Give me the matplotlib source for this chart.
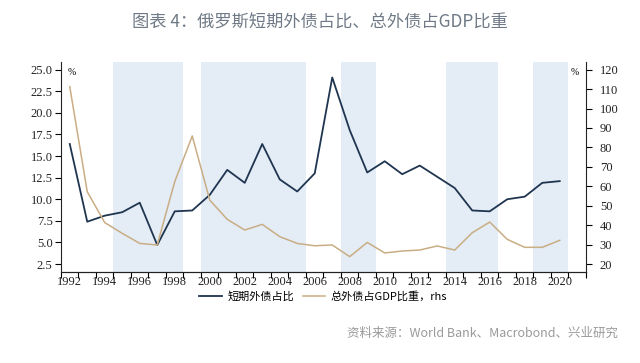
import matplotlib
matplotlib.use('Agg')
import matplotlib.pyplot as plt
import numpy as np

# 刻度用衬线体，中文单独指定字体
plt.rcParams['font.family'] = ['Liberation Serif', 'DejaVu Serif']
cjk = ['Noto Sans CJK SC', 'DejaVu Sans']

# 数据：年份、短期外债占比（左轴）、总外债占GDP比重（右轴）
years = list(range(1992, 2021))
short_share = [16.4, 7.4, 8.1, 8.5, 9.6, 4.7, 8.6, 8.7, 10.5, 13.4, 11.9, 16.4, 12.3,
               10.9, 13.0, 24.1, 18.0, 13.1, 14.4, 12.9, 13.9, 12.6, 11.3, 8.7, 8.6,
               10.0, 10.3, 11.9, 12.1]
debt_gdp = [111.3, 57.2, 41.3, 35.8, 30.6, 29.8, 62.4, 85.9, 52.9, 43.0, 37.5, 40.4, 34.1,
            30.6, 29.4, 29.8, 23.8, 31.1, 25.7, 26.7, 27.2, 29.3, 27.2, 36.1, 41.6,
            32.7, 28.6, 28.6, 32.2]
# 阴影区间（起止年份）
bands = [(1995, 1998), (2000, 2005), (2008, 2009), (2014, 2016), (2019, 2020)]

navy = '#1f3550'
tan = '#c9ad84'
shade = '#e4ecf6'

fig = plt.figure(figsize=(6.4, 3.63), dpi=100)
ax = fig.add_axes([0.0953, 0.2515, 0.8203, 0.5769])
ax2 = ax.twinx()

for a, b in bands:
    ax.axvspan(a - 0.5, b + 0.5, color=shade, lw=0, zorder=0)

l1, = ax.plot(years, short_share, color=navy, lw=1.3, zorder=3)
l2, = ax2.plot(years, debt_gdp, color=tan, lw=1.1, zorder=3)

ax.set_xlim(1991.5, 2021.5)
ax.set_ylim(1.61, 25.86)
ax2.set_ylim(16.05, 123.8)

ax.set_xticks(np.arange(1992, 2021, 2))
ax.set_xticks(np.arange(1991.5, 2022, 1), minor=True)
ax.set_yticks(np.arange(2.5, 25.1, 2.5))
ax.set_yticklabels(['%.1f' % v for v in np.arange(2.5, 25.1, 2.5)])
ax2.set_yticks(np.arange(20, 121, 10))

ax.tick_params(axis='x', which='major', length=0, pad=3, labelsize=9, labelcolor='#222222')
ax.tick_params(axis='x', which='minor', length=4, direction='out', width=0.8)
ax.tick_params(axis='y', length=4, width=0.8, pad=2, labelsize=9, labelcolor='#222222')
ax2.tick_params(axis='y', length=4, width=0.8, pad=6, labelsize=9, labelcolor='#222222')

for a in (ax, ax2):
    a.spines['top'].set_visible(False)
    for s in ('left', 'right', 'bottom'):
        a.spines[s].set_linewidth(0.8)
        a.spines[s].set_color('#222222')
ax2.spines['left'].set_visible(False)
ax.spines['right'].set_visible(False)

ax.text(0.012, 0.975, '%', transform=ax.transAxes, fontsize=7, va='top')
ax2.text(0.987, 0.975, '%', transform=ax.transAxes, fontsize=7, va='top', ha='right')

fig.legend([l1, l2], ['短期外债占比', '总外债占GDP比重，rhs'], loc='center',
           bbox_to_anchor=(0.505, 0.182), ncol=2, frameon=False,
           prop={'family': cjk, 'size': 8},
           handlelength=2.0, handletextpad=0.5, columnspacing=0.8)

fig.text(0.5, 0.937, '图表 4：俄罗斯短期外债占比、总外债占GDP比重', ha='center', va='center',
         fontsize=12.4, color='#6f7a86', family=cjk)
fig.text(0.966, 0.083, '资料来源：World Bank、Macrobond、兴业研究', ha='right', va='center',
         fontsize=9, color='#9a9a9a', family=cjk)

fig.savefig('out.png', dpi=100)
